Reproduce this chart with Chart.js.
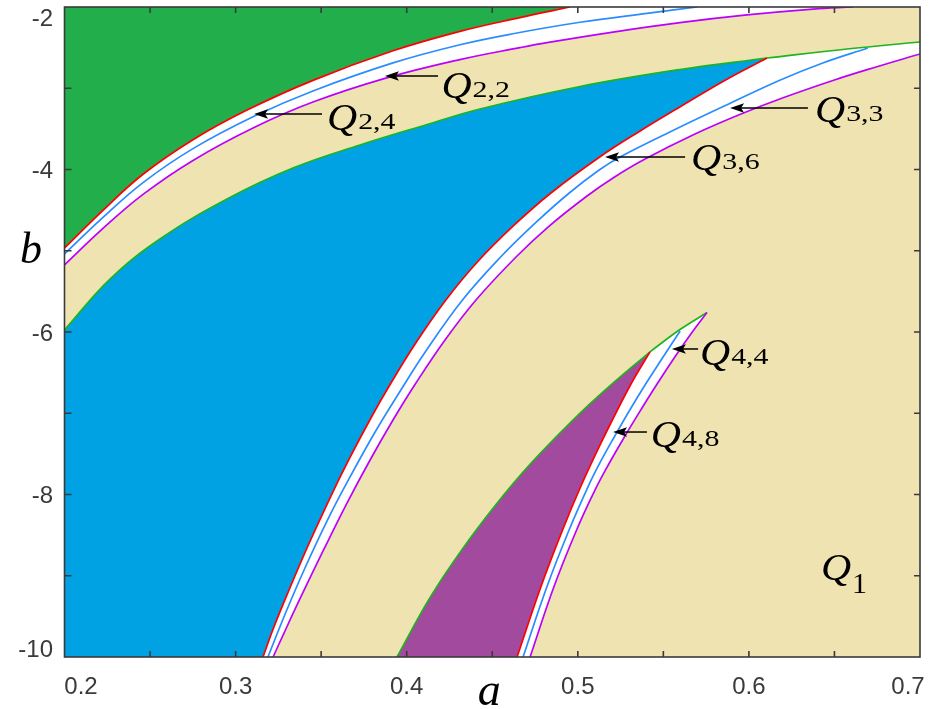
<!DOCTYPE html>
<html><head><meta charset="utf-8">
<style>html,body{margin:0;padding:0;background:#fff;}canvas{display:block;}</style>
<script src="https://cdn.jsdelivr.net/npm/chart.js@4.4.1/dist/chart.umd.min.js"></script>
</head><body>
<canvas id="c" width="940" height="709"></canvas>
<script>
// ---------- data (a, b) ----------
const red2 = [[0.2000,-4.966],[0.2225,-4.502],[0.2459,-4.059],[0.2751,-3.634],[0.3067,-3.269],[0.3452,-2.903],[0.3920,-2.539],[0.4311,-2.300],[0.4662,-2.130],[0.4954,-2.000]];
const blue2 = [[0.2000,-5.040],[0.2225,-4.590],[0.2459,-4.161],[0.2751,-3.743],[0.3108,-3.345],[0.3452,-3.033],[0.3920,-2.688],[0.4311,-2.465],[0.4621,-2.329],[0.5013,-2.188],[0.5404,-2.078],[0.5697,-2.000]];
const magenta2 = [[0.2000,-5.175],[0.2225,-4.725],[0.2459,-4.306],[0.2751,-3.888],[0.3108,-3.483],[0.3452,-3.170],[0.3873,-2.878],[0.4311,-2.647],[0.4662,-2.500],[0.4820,-2.439],[0.5206,-2.309],[0.5597,-2.193],[0.5989,-2.098],[0.6375,-2.026],[0.6608,-2.000]];
const green1a = [[0.2000,-5.975],[0.2266,-5.348],[0.2558,-4.855],[0.2950,-4.363],[0.3335,-3.982],[0.3727,-3.698],[0.4119,-3.446],[0.4428,-3.255],[0.5013,-2.978],[0.5597,-2.769],[0.6106,-2.628]];
const green1b = [[0.6106,-2.628],[0.6573,-2.517],[0.7000,-2.431]];
const red3 = [[0.3160,-10.0],[0.3224,-9.631],[0.3305,-9.212],[0.3420,-8.646],[0.3546,-8.068],[0.3661,-7.575],[0.3794,-7.046],[0.3908,-6.628],[0.4053,-6.135],[0.4229,-5.606],[0.4413,-5.138],[0.4629,-4.683],[0.4843,-4.289],[0.5128,-3.846],[0.5355,-3.538],[0.5606,-3.218],[0.5864,-2.898],[0.6106,-2.628]];
const blue3 = [[0.3189,-10.0],[0.3292,-9.458],[0.3408,-8.892],[0.3537,-8.314],[0.3659,-7.822],[0.3812,-7.243],[0.3955,-6.751],[0.4116,-6.222],[0.4326,-5.606],[0.4549,-5.077],[0.4752,-4.658],[0.4950,-4.289],[0.5125,-4.006],[0.5247,-3.846],[0.5562,-3.514],[0.5869,-3.206],[0.6184,-2.898],[0.6432,-2.689],[0.6695,-2.505]];
const magenta3 = [[0.3219,-10.0],[0.3283,-9.705],[0.3373,-9.298],[0.3514,-8.683],[0.3651,-8.105],[0.3786,-7.575],[0.3920,-7.083],[0.4054,-6.628],[0.4224,-6.098],[0.4405,-5.606],[0.4639,-5.077],[0.4826,-4.708],[0.5054,-4.326],[0.5215,-4.092],[0.5393,-3.871],[0.5685,-3.563],[0.5954,-3.317],[0.6196,-3.120],[0.6500,-2.898],[0.6743,-2.738],[0.7000,-2.578]];
const green4a = [[0.3943,-10.0],[0.4136,-9.269],[0.4329,-8.660],[0.4528,-8.107],[0.4721,-7.628],[0.4972,-7.083],[0.5171,-6.694],[0.5422,-6.244]];
const green4b = [[0.5422,-6.244],[0.5597,-5.970],[0.5755,-5.760]];
const red4 = [[0.4645,-10.0],[0.4784,-9.138],[0.4911,-8.437],[0.5016,-7.908],[0.5116,-7.452],[0.5193,-7.120],[0.5314,-6.628],[0.5422,-6.244]];
const blue4 = [[0.4680,-10.0],[0.4819,-9.138],[0.4949,-8.437],[0.5059,-7.908],[0.5129,-7.612],[0.5213,-7.292],[0.5304,-6.960],[0.5393,-6.652],[0.5487,-6.345],[0.5598,-5.988]];
const magenta4 = [[0.4721,-10.0],[0.4860,-9.138],[0.4993,-8.437],[0.5092,-7.982],[0.5162,-7.698],[0.5262,-7.329],[0.5368,-6.960],[0.5467,-6.628],[0.5575,-6.283],[0.5665,-6.012],[0.5755,-5.760]];

// ticks
const xTickValues = [0.2,0.25,0.3,0.35,0.4,0.45,0.5,0.55,0.6,0.65,0.7];
const xLabelValues = [0.2,0.3,0.4,0.5,0.6,0.7];
const xLabelTexts = ['0.2','0.3','0.4','0.5','0.6','0.7'];
const yTickValues = [-10,-9,-8,-7,-6,-5,-4,-3,-2];
const yLabelValues = [-10,-8,-6,-4,-2];
const yLabelTexts = ['-10','-8','-6','-4','-2'];

// region annotations
const regionSubs = ['2,2','2,4','3,3','3,6','4,4','4,8'];
const arrowTips = [[0.3873,-2.849],[0.3108,-3.317],[0.5890,-3.243],[0.5159,-3.846],[0.5550,-6.209],[0.5206,-7.231]];
const arrowTailA = [0.4183,0.3505,0.6345,0.5627,0.5703,0.5404];
const labelAnchors = [[0.4203,-3.120],[0.3534,-3.514],[0.6386,-3.415],[0.5662,-4.006],[0.5714,-6.406],[0.5427,-7.415]];
const q1Anchor = [0.6421,-9.052];

// ---------- styles ----------
const BEIGE = '#EFE3B1', GREENF = '#22AE4B', BLUEF = '#00A2E3', PURPLE = '#A24A9E', WHITE = '#FFFFFF';
const RED = '#FF0000', BLUEL = '#2A8CFF', MAG = '#BB00FF', GREENL = '#1DB41D';

function ds(pts, color, fill, bg, order){
  return {data: pts.map(p=>({x:p[0], y:p[1]})), showLine:true, borderColor:color, borderWidth:1.7,
    backgroundColor:bg, fill:fill, pointRadius:0, pointHoverRadius:0, order:order,
    tension:0.4};
}

function drawQ(ctx, x, y, sub, subSize, subDy, subScale){
  ctx.save();
  ctx.textAlign = 'left'; ctx.textBaseline = 'alphabetic';
  ctx.translate(x, y); ctx.scale(1.1, 1);
  ctx.font = 'italic 38px "Liberation Serif", "Times New Roman", serif';
  ctx.fillText('Q', 0, 0);
  const w = ctx.measureText('Q').width * 1.1;
  ctx.restore();
  ctx.save();
  ctx.textAlign = 'left'; ctx.textBaseline = 'alphabetic';
  ctx.translate(x + w + 1, y + subDy); ctx.scale(subScale, 1);
  ctx.font = subSize + 'px "Liberation Serif", "Times New Roman", serif';
  ctx.fillText(sub, 0, 0);
  ctx.restore();
}

const deco = {
  id:'deco',
  beforeDatasetsDraw(chart){
    const {ctx, chartArea:ca} = chart;
    ctx.save(); ctx.fillStyle = BEIGE;
    ctx.fillRect(ca.left, ca.top, ca.right-ca.left, ca.bottom-ca.top);
    ctx.restore();
  },
  afterDatasetsDraw(chart){
    const {ctx, chartArea:ca} = chart;
    const xs = chart.scales.x, ys = chart.scales.y;
    ctx.save();
    ctx.strokeStyle = '#3a3a3a'; ctx.lineWidth = 1.6;
    ctx.strokeRect(ca.left, ca.top, ca.right-ca.left, ca.bottom-ca.top);
    ctx.beginPath();
    xTickValues.forEach(v=>{
      const p = xs.getPixelForValue(v);
      if (p < ca.left+2 || p > ca.right-2) return;
      ctx.moveTo(p, ca.bottom); ctx.lineTo(p, ca.bottom-6);
      ctx.moveTo(p, ca.top); ctx.lineTo(p, ca.top+6);
    });
    yTickValues.forEach(v=>{
      const p = ys.getPixelForValue(v);
      if (p < ca.top+2 || p > ca.bottom-2) return;
      ctx.moveTo(ca.left, p); ctx.lineTo(ca.left+7, p);
      ctx.moveTo(ca.right, p); ctx.lineTo(ca.right-6, p);
    });
    ctx.stroke();
    ctx.fillStyle = '#3a3a3a'; ctx.font = '24px "Liberation Sans", Arial, sans-serif';
    ctx.textAlign = 'center'; ctx.textBaseline = 'alphabetic';
    xLabelValues.forEach((v,i)=>{
      let p = xs.getPixelForValue(v);
      p = Math.max(ca.left+16.5, Math.min(ca.right-12, p));
      ctx.fillText(xLabelTexts[i], p, ca.bottom+37);
    });
    ctx.textAlign = 'right';
    yLabelValues.forEach((v,i)=>{
      let p = ys.getPixelForValue(v);
      p = Math.max(ca.top+10, Math.min(ca.bottom-9, p));
      ctx.fillText(yLabelTexts[i], ca.left-11.5, p+8.5);
    });
    ctx.fillStyle = '#000';
    ctx.textAlign = 'center';
    ctx.font = 'italic 46px "Liberation Serif", "Times New Roman", serif';
    ctx.fillText('a', (ca.left+ca.right)/2-3, ca.bottom+48);
    ctx.textAlign = 'left';
    ctx.font = 'italic 44px "Liberation Serif", "Times New Roman", serif';
    ctx.fillText('b', 20, 263);
    ctx.strokeStyle = '#000'; ctx.fillStyle = '#000'; ctx.lineWidth = 1.5;
    arrowTips.forEach((t,i)=>{
      const tx = xs.getPixelForValue(t[0]), ty = ys.getPixelForValue(t[1]);
      const ex = xs.getPixelForValue(arrowTailA[i]);
      ctx.beginPath(); ctx.moveTo(tx+8, ty); ctx.lineTo(ex, ty); ctx.stroke();
      ctx.beginPath(); ctx.moveTo(tx, ty); ctx.lineTo(tx+14, ty-4.8); ctx.lineTo(tx+11, ty); ctx.lineTo(tx+14, ty+4.8); ctx.closePath(); ctx.fill();
      const lx = xs.getPixelForValue(labelAnchors[i][0]), ly = ys.getPixelForValue(labelAnchors[i][1]);
      drawQ(ctx, lx, ly, regionSubs[i], 23, -1, 1.3);
    });
    const qx = xs.getPixelForValue(q1Anchor[0]), qy = ys.getPixelForValue(q1Anchor[1]);
    drawQ(ctx, qx, qy, '1', 30, 13, 1.0);
    ctx.restore();
  }
};

new Chart(document.getElementById('c'), {
  type: 'scatter',
  data: { datasets: [
    ds(green1a, GREENL, 'start', BLUEF, 20),   // 0
    ds(green1b, GREENL, 3, WHITE, 19),         // 1 -> fill to magenta3
    ds(red3, RED, 'start', WHITE, 18),         // 2
    ds(magenta3, MAG, 'start', BEIGE, 17),     // 3
    ds(green4a, GREENL, 'start', PURPLE, 16),  // 4
    ds(green4b, GREENL, 7, WHITE, 15),         // 5 -> fill to magenta4
    ds(red4, RED, 'start', WHITE, 14),         // 6
    ds(magenta4, MAG, 'start', BEIGE, 13),     // 7
    ds(magenta2, MAG, 'end', WHITE, 12),       // 8
    ds(red2, RED, 'end', GREENF, 11),          // 9
    ds(blue2, BLUEL, false, BLUEL, 5),
    ds(blue3, BLUEL, false, BLUEL, 4),
    ds(blue4, BLUEL, false, BLUEL, 3)
  ]},
  options: {
    responsive: false, animation: false, devicePixelRatio: 1,
    layout: { padding: { top: 7, right: 20, left: 0, bottom: 0 } },
    plugins: { legend: { display: false }, tooltip: { enabled: false } },
    events: [],
    scales: {
      x: { type: 'linear', min: 0.2, max: 0.7,
        afterBuildTicks: s => { s.ticks = xTickValues.map(v=>({value:v})); },
        afterFit: s => { s.height = 52; },
        grid: { display: false }, border: { display: false }, ticks: { display: false } },
      y: { type: 'linear', min: -10, max: -2,
        afterBuildTicks: s => { s.ticks = yTickValues.map(v=>({value:v})); },
        afterFit: s => { s.width = 64.5; },
        grid: { display: false }, border: { display: false }, ticks: { display: false } }
    }
  },
  plugins: [deco]
});
</script>
</body></html>
